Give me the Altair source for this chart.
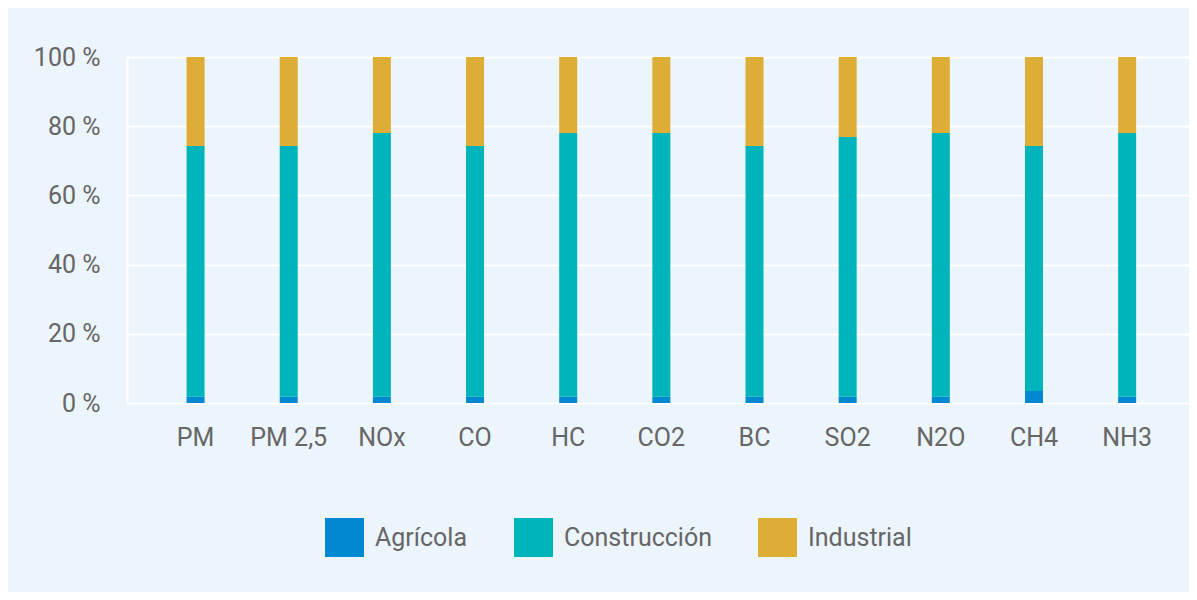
import altair as alt
import pandas as pd

categories = ["PM", "PM 2,5", "NOx", "CO", "HC", "CO2", "BC", "SO2", "N2O", "CH4", "NH3"]
series = ["Agrícola", "Construcción", "Industrial"]
agricola = [1.8, 1.8, 1.8, 1.8, 1.8, 1.8, 1.8, 1.8, 1.8, 3.5, 1.8]
construccion = [72.5, 72.5, 76.2, 72.5, 76.2, 76.2, 72.5, 75.1, 76.2, 70.8, 76.2]
industrial = [25.7, 25.7, 22.0, 25.7, 22.0, 22.0, 25.7, 23.1, 22.0, 25.7, 22.0]
colors = ["#0288D1", "#00B4BC", "#DEAD36"]

rows = []
for i, c in enumerate(categories):
    for k, (s, vals) in enumerate(zip(series, [agricola, construccion, industrial])):
        rows.append({"cat": c, "serie": s, "valor": vals[i], "orden": k})
df = pd.DataFrame(rows)

font = "Roboto"
label_color = "#666666"

chart = alt.Chart(df).mark_bar(size=18).encode(
    x=alt.X("cat:N", sort=categories, title=None,
            scale=alt.Scale(paddingInner=0.8, paddingOuter=0.6, align=0.53),
            axis=alt.Axis(labelAngle=0, labelFont=font, labelFontSize=25,
                          labelColor=label_color, labelPadding=22, ticks=False,
                          domain=False, grid=False)),
    y=alt.Y("valor:Q", stack="zero", title=None,
            scale=alt.Scale(domain=[0, 100], nice=False),
            axis=alt.Axis(values=[0, 20, 40, 60, 80, 100],
                          labelExpr="datum.value + ' %'",
                          labelFont=font, labelFontSize=25, labelColor=label_color,
                          labelPadding=27, ticks=False, domain=True,
                          domainColor="#ffffff", domainWidth=2,
                          grid=True, gridColor="#ffffff", gridWidth=2)),
    color=alt.Color("serie:N", sort=series,
                    scale=alt.Scale(domain=series, range=colors),
                    legend=alt.Legend(title=None, orient="none", direction="horizontal",
                                      legendX=198, legendY=461, padding=0,
                                      symbolType="square", symbolSize=1521,
                                      symbolStrokeWidth=0, symbolOpacity=1,
                                      labelFont=font, labelFontSize=25,
                                      labelColor=label_color, labelOffset=11,
                                      columnPadding=46)),
    order=alt.Order("orden:Q", sort="ascending"),
).properties(
    width=1062, height=346,
    padding={"left": 119, "top": 49, "right": 0, "bottom": 189},
    autosize=alt.AutoSizeParams(type="none"),
    background="#ecf4fc",
).configure_view(stroke=None)

chart.save("out.html", embed_options={"renderer": "svg", "actions": False})
